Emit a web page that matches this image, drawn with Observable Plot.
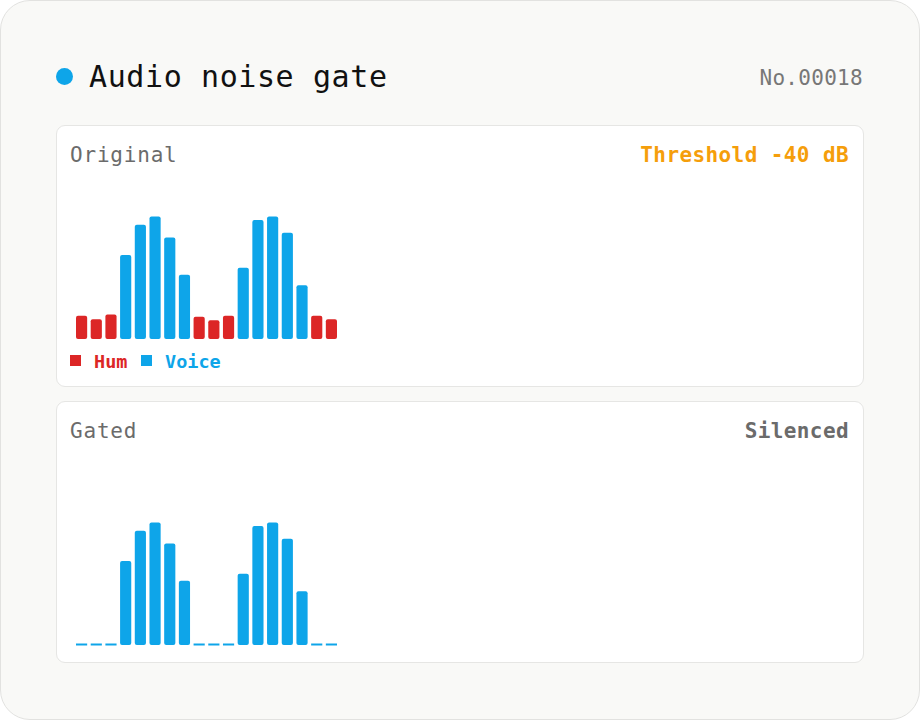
<!DOCTYPE html>
<html>
<head>
<meta charset="utf-8">
<script src="https://cdn.jsdelivr.net/npm/d3@7"></script>
<script src="https://cdn.jsdelivr.net/npm/@observablehq/plot@0.6"></script>
<style>
  html, body { margin: 0; padding: 0; background: #ffffff; }
  body { width: 920px; height: 720px; position: relative; overflow: hidden; font-family: "DejaVu Sans Mono", "Liberation Mono", monospace; }
  .card { position: absolute; left: 0; top: 0; width: 920px; height: 720px; box-sizing: border-box; background: #f9f9f7; border: 1px solid #e2e2e0; border-radius: 30px; }
  .panel { position: absolute; left: 56px; width: 808px; height: 262px; box-sizing: border-box; background: #ffffff; border: 1px solid #e6e6e4; border-radius: 9px; }
  .t { position: absolute; white-space: nowrap; line-height: 1; }
  .chart { position: absolute; left: 56px; }
  .chart svg { display: block; background: transparent; }
</style>
</head>
<body>
<div class="card"></div>
<div class="panel" style="top:125px"></div>
<div class="panel" style="top:401px"></div>
<div id="texts"></div>
<div class="chart" id="orig" style="top:125px"></div>
<div class="chart" id="gated" style="top:431px"></div>
<script>
// ---- data ----
const title = "Audio noise gate";
const serial = "No.00018";
const panelOriginal = "Original";
const panelGated = "Gated";
const thresholdDb = -40;
const thresholdLabel = "Threshold -40 dB";
const gatedLabel = "Silenced";
const floorDb = -60;
const sources = ["Hum","Hum","Hum","Voice","Voice","Voice","Voice","Voice","Hum","Hum","Hum","Voice","Voice","Voice","Voice","Voice","Hum","Hum"];
const levelsDb = [-50, -51.5, -49.5, -24, -11, -7.5, -16.5, -32.5, -50.5, -52, -50, -29.5, -9, -7.5, -14.5, -37, -50, -51.5];
const legendNames = ["Hum", "Voice"];
const colors = {Hum: "#dc2626", Voice: "#0ea5e9"};

// ---- text ----
const texts = document.getElementById("texts");
function addText(str, css) {
  const d = document.createElement("div");
  d.className = "t";
  d.textContent = str;
  Object.assign(d.style, css);
  texts.appendChild(d);
  return d;
}
const dot = document.createElement("div");
Object.assign(dot.style, {position: "absolute", left: "56px", top: "68px", width: "17px", height: "17px", borderRadius: "50%", background: colors.Voice});
texts.appendChild(dot);
addText(title, {left: "89px", top: "62px", fontSize: "30px", color: "#111111", letterSpacing: "0.6px"});
addText(serial, {right: "57px", top: "68px", fontSize: "21px", color: "#777777", letterSpacing: "0.3px"});
addText(panelOriginal, {left: "70px", top: "145px", fontSize: "21px", color: "#6b6b6b", letterSpacing: "0.8px"});
addText(thresholdLabel, {right: "71px", top: "145px", fontSize: "21px", color: "#f59e0b", fontWeight: "bold", letterSpacing: "0.4px"});
addText(panelGated, {left: "70px", top: "421px", fontSize: "21px", color: "#6b6b6b", letterSpacing: "0.8px"});
addText(gatedLabel, {right: "71px", top: "421px", fontSize: "21px", color: "#6b6b6b", fontWeight: "bold", letterSpacing: "0.4px"});
// legend
let lx = 70;
legendNames.forEach((name, k) => {
  const sq = document.createElement("div");
  Object.assign(sq.style, {position: "absolute", left: lx + "px", top: "355px", width: "11px", height: "11px", background: colors[name]});
  texts.appendChild(sq);
  addText(name, {left: (lx + 24) + "px", top: "353px", fontSize: "18.5px", color: colors[name], fontWeight: "bold"});
  lx = k === 0 ? 141 : lx;
});

// ---- charts ----
const rows = levelsDb.map((db, i) => ({i, db, source: sources[i], pass: db >= thresholdDb}));
const common = {
  width: 281, height: 224,
  marginLeft: 20, marginRight: 0, marginTop: 74, marginBottom: 10,
  x: {type: "band", domain: d3.range(levelsDb.length), paddingInner: 0.24, paddingOuter: 0, round: false, axis: null},
  y: {domain: [floorDb, 0], axis: null},
  style: {background: "transparent", overflow: "visible"}
};

const orig = Plot.plot({
  ...common,
  marks: [
    Plot.barY(rows, {x: "i", y1: floorDb, y2: "db", fill: d => colors[d.source], rx: 2})
  ]
});
document.getElementById("orig").appendChild(orig);

const gated = Plot.plot({
  ...common,
  marks: [
    Plot.barY(rows.filter(d => d.pass), {x: "i", y1: floorDb, y2: "db", fill: colors.Voice, rx: 2}),
    Plot.tickY(rows.filter(d => !d.pass), {x: "i", y: floorDb, stroke: colors.Voice, strokeWidth: 2, dy: -1})
  ]
});
document.getElementById("gated").appendChild(gated);
</script>
</body>
</html>
